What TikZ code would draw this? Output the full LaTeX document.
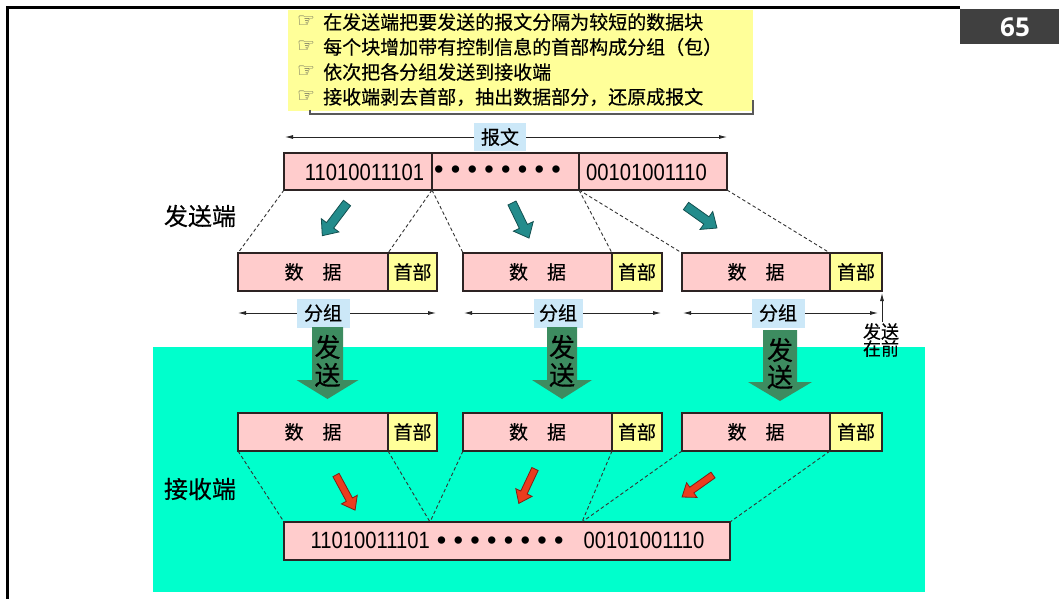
\documentclass[tikz,border=0pt]{standalone}
\usepackage{fontspec}
\setmainfont{Liberation Sans}
\newfontfamily\cjk[FakeBold=0.4]{Noto Sans CJK SC}
\newfontfamily\djv{DejaVu Sans}
\newfontfamily\opens{Open Sans}
\usetikzlibrary{arrows.meta}
\definecolor{pinkc}{RGB}{255,204,204}
\definecolor{yelc}{RGB}{255,255,153}
\definecolor{bluec}{RGB}{204,232,248}
\definecolor{cyanc}{RGB}{0,255,204}
\definecolor{greenc}{RGB}{61,140,96}
\definecolor{tealc}{RGB}{35,140,140}
\definecolor{teald}{RGB}{20,80,80}
\definecolor{redc}{RGB}{235,60,30}
\definecolor{redd}{RGB}{130,30,20}
\definecolor{edgec}{RGB}{45,35,35}
\definecolor{boxgray}{RGB}{64,64,64}
\definecolor{handc}{RGB}{80,80,80}
\newcommand\myfs[1]{\fontsize{#1pt}{#1pt}\selectfont}
\newcommand\bdot{\raisebox{-1.3pt}{\scalebox{1.15}{•}}}
\newcommand\bgap{\kern7.3pt}
\newcommand\bulletrow{\bdot\bgap\bdot\bgap\bdot\bgap\bdot\bgap\bdot\bgap\bdot\bgap\bdot\bgap\bdot}
\newcommand\narrow[1]{\scalebox{0.86}[1]{#1}}
% block arrow: start, angle, length, fill, draw, half shaft, half head, head length
\newcommand\blockarr[8]{%
  \begin{scope}[shift={(#1)},rotate=#2]
    \draw[fill=#4,draw=#5,line width=0.8pt,line join=miter]
      (0,-#6) -- ({#3-#8},-#6) -- ({#3-#8},-#7) -- (#3,0) -- ({#3-#8},#7) -- ({#3-#8},#6) -- (0,#6) -- cycle;
  \end{scope}}
% send arrow: cx, top, half shaft, half head, head start, tip
\newcommand\sendarr[6]{%
  \fill[greenc] ({#1-#3},#2) -- ({#1+#3},#2) -- ({#1+#3},#5) -- ({#1+#4},#5) -- (#1,#6) -- ({#1-#4},#5) -- ({#1-#3},#5) -- cycle;}
\begin{document}
\begin{tikzpicture}[x=1pt,y=-1pt,
  box/.style={draw=edgec,line width=1.3pt,inner sep=0pt,outer sep=0pt,anchor=north west},
  databox/.style={box,fill=pinkc,minimum height=38pt,font=\cjk\myfs{19}},
  hdrbox/.style={box,fill=yelc,minimum height=38pt,font=\cjk\myfs{19}},
  bitstxt/.style={font=\myfs{23.5},inner sep=0pt},
  lbl/.style={fill=bluec,font=\cjk\myfs{19},inner sep=0pt,minimum width=53pt,minimum height=29pt},
  side/.style={font=\cjk\myfs{24},inner sep=0pt},
  sendtxt/.style={font=\cjk\myfs{26},inner sep=0pt},
  dashln/.style={dashed,dash pattern=on 3.5pt off 2.5pt,line width=0.9pt,draw=black!80},
  dim/.style={{Latex[length=8pt,width=4pt]}-{Latex[length=8pt,width=4pt]},line width=0.8pt,draw=black!85},
  item/.style={font=\cjk\myfs{19},anchor=west,inner sep=0pt},
  hand/.style={font=\djv\myfs{20},text=handc,inner sep=0pt}
]
\useasboundingbox (0,0) rectangle (1059,599);
% receiving area
\fill[cyanc] (153,347) rectangle (925,592);
% frame
\draw[line width=3pt] (960,8) -- (7,8) -- (7,599);
\node[fill=boxgray,minimum width=99pt,minimum height=35pt,inner sep=0pt,anchor=north west] (pg) at (960,9) {};
\node[text=white,font=\opens\bfseries\myfs{26},inner sep=0pt] (pgn) at (1015,27) {65};
% note box
\fill[yelc] (288,10) rectangle (753,111);
\draw[line width=1.2pt,draw=black!65] (310,110) -- (310,114) -- (753,114) -- (753,100);
\foreach \yy/\tt [count=\i] in {22/在发送端把要发送的报文分隔为较短的数据块,
  47/每个块增加带有控制信息的首部构成分组（包）,
  72/依次把各分组发送到接收端,
  97/接收端剥去首部，抽出数据部分，还原成报文}{
  \node[hand] (h\i) at (306,\yy) {☞};
  \node[item] (t\i) at (323,\yy) {\tt};
}
% message arrow
\coordinate (bwl) at (285,137);
\coordinate (bwr) at (727,137);
\draw[dim] (bwl) -- (bwr);
\node[lbl,minimum width=52pt,minimum height=28pt] (bw) at (500,137) {报文};
% top message bar
\node[box,fill=pinkc,minimum width=148pt,minimum height=37pt] (seg1) at (284,153) {};
\node[box,fill=pinkc,minimum width=147pt,minimum height=37pt] (seg2) at (432,153) {};
\node[box,fill=pinkc,minimum width=148pt,minimum height=37pt] (seg3) at (579,153) {};
\node[bitstxt] (s1t) at (364.5,172) {\narrow{11010011101}};
\node[bitstxt] (s2t) at (497.5,172) {\bulletrow};
\node[bitstxt] (s3t) at (646.5,172) {\narrow{00101001110}};
\node[side] (snd) at (200,216) {发送端};
% sender packets
\node[databox,minimum width=150pt] (p1d) at (238,253) {数\hspace{1em}据};
\node[hdrbox,minimum width=49pt] (p1h) at (388,253) {首部};
\node[databox,minimum width=149pt] (p2d) at (463,253) {数\hspace{1em}据};
\node[hdrbox,minimum width=50pt] (p2h) at (612,253) {首部};
\node[databox,minimum width=148pt] (p3d) at (682,253) {数\hspace{1em}据};
\node[hdrbox,minimum width=52pt] (p3h) at (830,253) {首部};
% dashed split lines
\draw[dashln] (seg1.south west) -- (p1d.north west);
\draw[dashln] (seg1.south east) -- (p1h.north west);
\draw[dashln] (seg1.south east) -- (p2d.north west);
\draw[dashln] (seg3.south west) -- (p2h.north west);
\draw[dashln] (seg3.south west) -- (p3d.north west);
\draw[dashln] (seg3.south east) -- (p3h.north west);
% teal arrows
\blockarr{347,203}{-127.1}{41}{tealc}{teald}{4.5}{11}{13}
\blockarr{512,203}{-64.1}{39}{tealc}{teald}{4.5}{11}{13}
\blockarr{686,206}{-35.4}{38}{tealc}{teald}{4.5}{11}{13}
% packet extents
\coordinate (g1l) at (238,313); \coordinate (g1r) at (436,313);
\coordinate (g2l) at (464,313); \coordinate (g2r) at (661,313);
\coordinate (g3l) at (683,313); \coordinate (g3r) at (878,313);
\draw[dim] (g1l) -- (g1r);
\draw[dim] (g2l) -- (g2r);
\draw[dim] (g3l) -- (g3r);
\node[lbl] (g1) at (323,313) {分组};
\node[lbl,minimum width=49pt] (g2) at (558,313) {分组};
\node[lbl] (g3) at (778,313) {分组};
% send first
\coordinate (ff) at (882,322);
\draw[-{Latex[length=8pt,width=4pt]},line width=0.8pt,draw=black!85] (ff) -- ([yshift=-2pt]p3h.south east);
\node[font=\cjk\myfs{18},align=center,inner sep=0pt,anchor=north] (sf) at (881,323) {发送\\[-1pt]在前};
% send arrows
\sendarr{327.5}{327}{15.5}{31}{380}{399}
\sendarr{562}{327}{15}{30}{380}{399}
\sendarr{780}{330}{17}{32}{382}{401}
\node[sendtxt] (f1a) at (327.5,347) {发}; \node[sendtxt] (f1b) at (327.5,375) {送};
\node[sendtxt] (f2a) at (562,347) {发}; \node[sendtxt] (f2b) at (562,375) {送};
\node[sendtxt] (f3a) at (780,350) {发}; \node[sendtxt] (f3b) at (780,377) {送};
% receiver packets
\node[databox,minimum width=150pt] (r1d) at (238,413) {数\hspace{1em}据};
\node[hdrbox,minimum width=49pt] (r1h) at (388,413) {首部};
\node[databox,minimum width=149pt] (r2d) at (463,413) {数\hspace{1em}据};
\node[hdrbox,minimum width=50pt] (r2h) at (612,413) {首部};
\node[databox,minimum width=148pt] (r3d) at (682,413) {数\hspace{1em}据};
\node[hdrbox,minimum width=52pt] (r3h) at (830,413) {首部};
\node[side] (rcv) at (200,489) {接收端};
% bottom bar
\node[box,fill=pinkc,minimum width=446pt,minimum height=38pt] (bar) at (284,522) {};
\node[bitstxt] (bart) at (507.5,541) {\narrow{11010011101}\kern7pt\bulletrow\kern20pt\narrow{00101001110}};
\coordinate (m1) at (430,522);
\coordinate (m2) at (582,522);
\draw[dashln] (r1d.south west) -- (bar.north west);
\draw[dashln] (r1h.south west) -- (m1);
\draw[dashln] (r2d.south west) -- (m1);
\draw[dashln] (r2h.south west) -- (m2);
\draw[dashln] (r3d.south west) -- (m2);
\draw[dashln] (r3h.south west) -- (bar.north east);
% red arrows
\blockarr{336,475}{-61.5}{40}{redc}{redd}{3.5}{9}{12}
\blockarr{535,469}{-115.2}{38}{redc}{redd}{3.5}{9}{12}
\blockarr{713,475}{-144.6}{38}{redc}{redd}{3.5}{9}{12}
\end{tikzpicture}
\end{document}
